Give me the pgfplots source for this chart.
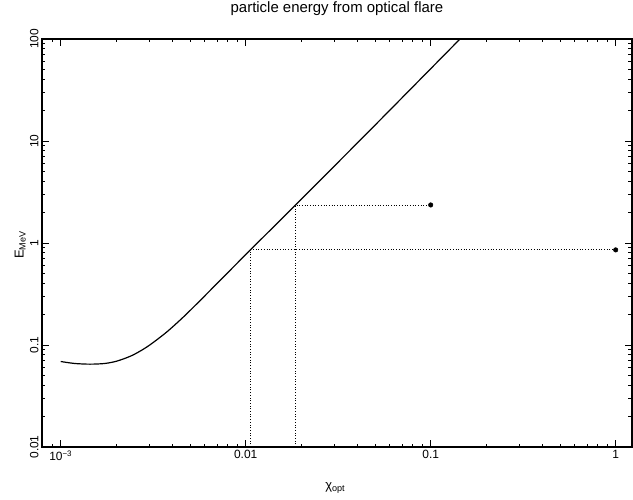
\documentclass[border=0pt]{standalone}
\usepackage{fontspec}
\setmainfont{Liberation Sans}
\usepackage{pgfplots}
\pgfplotsset{compat=1.18}

\begin{document}
\begin{tikzpicture}
\path[use as bounding box] (-42bp,-53bp) rectangle (591bp,447bp);
\begin{loglogaxis}[
  at={(0,0)}, anchor=south west, scale only axis,
  width=590bp, height=408bp,
  xmin=7.92e-4, xmax=1.225, ymin=0.01, ymax=100,
  xtick={0.001,0.01,0.1,1},
  xticklabels={10\textsuperscript{−3},0.01,0.1,1},
  minor xtick={0.0008,0.0009,0.002,0.003,0.004,0.005,0.006,0.007,0.008,0.009,
    0.02,0.03,0.04,0.05,0.06,0.07,0.08,0.09,0.2,0.3,0.4,0.5,0.6,0.7,0.8,0.9},
  ytick={0.01,0.1,1,10,100},
  yticklabels={0.01,0.1,1,10,100},
  minor ytick={0.02,0.03,0.04,0.05,0.06,0.07,0.08,0.09,0.2,0.3,0.4,0.5,0.6,0.7,0.8,0.9,
    2,3,4,5,6,7,8,9,20,30,40,50,60,70,80,90},
  axis line style={line width=1.1bp},
  every tick/.style={black, line width=0.8bp},
  major tick length=7bp, minor tick length=3.5bp,
  tick label style={font=\fontsize{12}{14}\selectfont},
  yticklabel style={rotate=90, anchor=south},
  title={particle energy from optical flare},
  title style={font=\fontsize{15}{18}\selectfont, at={(axis description cs:0.5,1)}, anchor=center, yshift=24bp},
  xlabel={χ\textsubscript{opt}},
  ylabel={E\textsubscript{MeV}},
  label style={font=\fontsize{13}{15}\selectfont},
  xlabel style={at={(axis description cs:0.497,-0.1)}, anchor=center},
  ylabel style={at={(axis description cs:-0.037,0.495)}, anchor=center},
]
% energy curve
\addplot[black, line width=1.2bp, smooth, tension=0.5] coordinates {
  (0.001,0.0689) (0.00119,0.0659) (0.00144,0.0649) (0.00173,0.0659)
  (0.00201,0.0695) (0.00237,0.0774) (0.00268,0.0869) (0.00304,0.1005)
  (0.00374,0.134) (0.0046,0.188) (0.00566,0.272) (0.00697,0.398)
  (0.0106,0.856) (0.0186,2.36) (0.05,14.3) (0.144,100)
};
% dotted guides
\addplot[black, line width=0.8bp, dash pattern=on 0.9bp off 1.8bp] coordinates {
  (0.0106,0.01) (0.0106,0.856) (1,0.856)
};
\addplot[black, line width=0.8bp, dash pattern=on 0.9bp off 1.8bp] coordinates {
  (0.0186,0.01) (0.0186,2.36) (0.1,2.36)
};
\addplot[only marks, mark=*, mark size=2.3bp, black] coordinates {
  (1,0.856) (0.1,2.36)
};
\end{loglogaxis}
\end{tikzpicture}
\end{document}
